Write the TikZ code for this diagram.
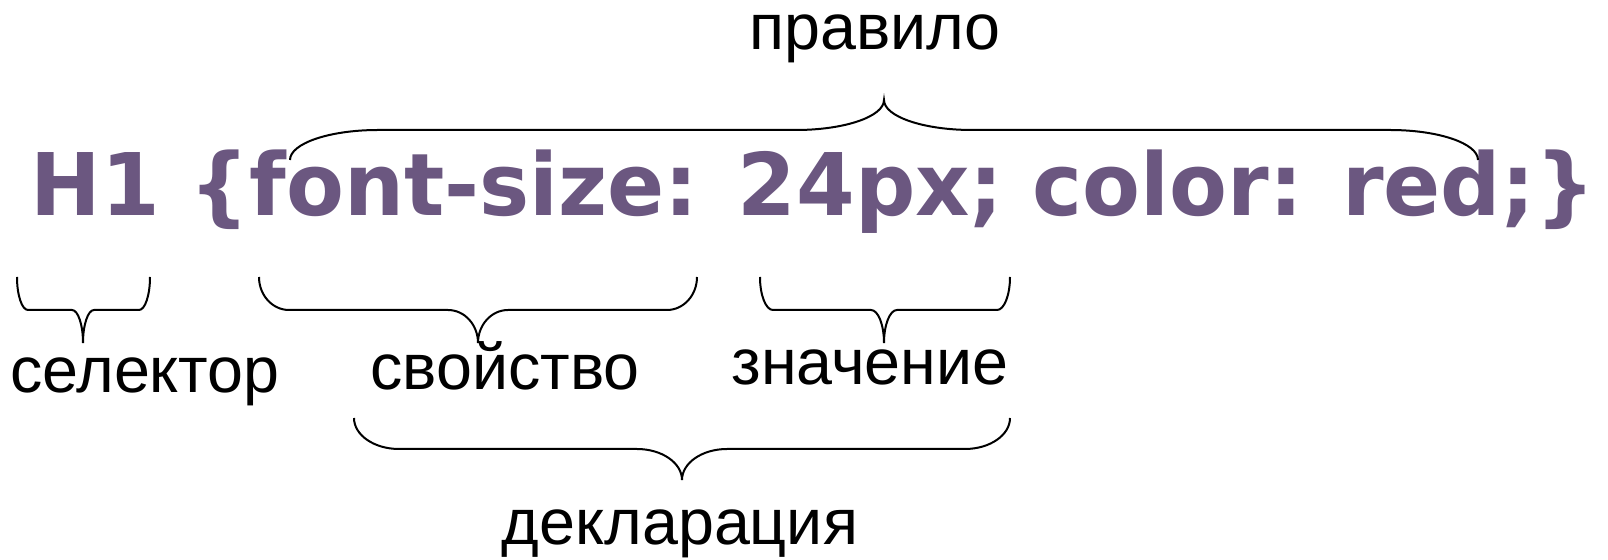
\documentclass[tikz,border=0pt]{standalone}
\usepackage{fontspec}
\setmainfont{Liberation Sans}
\newfontfamily\codefont{DejaVu Sans}
\definecolor{csspurple}{RGB}{107,87,128}
\tikzset{
  lbl/.style={anchor=base, inner sep=0pt, font=\fontsize{32.3}{40}\selectfont},
  codetext/.style={anchor=base, inner sep=0pt, text=csspurple, font=\codefont\bfseries\fontsize{43.2}{50}\selectfont},
  bracestyle/.style={draw=black, line width=1pt}
}
% x1, x2, xm, yend, h, r
\newcommand{\hbrace}[6]{%
  \draw[bracestyle] (#1,#4) .. controls (#1,{#4+0.552*#5}) and ({#1+0.448*#6},{#4+#5}) .. ({#1+#6},{#4+#5})
    -- ({#3-#6},{#4+#5}) .. controls ({#3-0.448*#6},{#4+#5}) and (#3,{#4+1.448*#5}) .. (#3,{#4+2*#5})
    .. controls (#3,{#4+1.448*#5}) and ({#3+0.448*#6},{#4+#5}) .. ({#3+#6},{#4+#5})
    -- ({#2-#6},{#4+#5}) .. controls ({#2-0.448*#6},{#4+#5}) and (#2,{#4+0.552*#5}) .. (#2,#4);}
\begin{document}
\begin{tikzpicture}[x=0.5pt, y=-0.5pt]
\useasboundingbox (0,0) rectangle (1608,560);
% texts
\node[lbl] (rule) at (875,50) {правило};
\node[codetext] (css) at (813,216) {\scalebox{0.976}[1]{H1 \{font-size: 24px; color: red;\}}};
\node[lbl] (sel) at (145,393) {селектор};
\node[lbl] (prop) at (505,390) {свойство};
\node[lbl] (val) at (870,385) {значение};
\node[lbl] (decl) at (680,545) {декларация};
% braces
\hbrace{290}{1478}{884}{160}{-30}{88}
\hbrace{17}{150}{83}{277}{33}{11}
\hbrace{259}{697}{478}{277}{33}{30}
\hbrace{760}{1010}{884}{277}{33}{13}
\hbrace{354}{1010}{682}{418}{31}{45}
\end{tikzpicture}
\end{document}
